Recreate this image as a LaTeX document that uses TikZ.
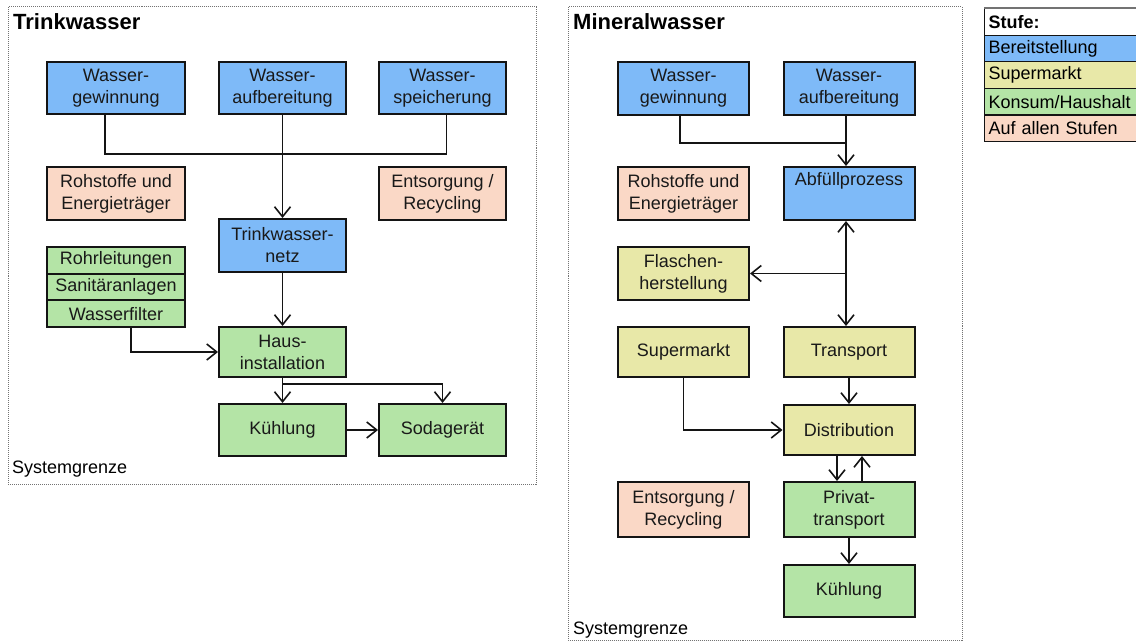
\documentclass[tikz,border=0pt]{standalone}
\usepackage{fontspec}
\setmainfont{Liberation Sans}
\usetikzlibrary{arrows.meta,calc}
\definecolor{cblue}{RGB}{126,186,248}
\definecolor{cyell}{RGB}{232,232,168}
\definecolor{cgreen}{RGB}{180,228,166}
\definecolor{csalm}{RGB}{250,216,198}
\definecolor{cline}{RGB}{20,20,20}
\begin{document}
\begin{tikzpicture}[x=1bp,y=-1bp,
  bx/.style={draw=cline, line width=2bp, align=center, inner sep=0pt,
     font=\fontsize{18bp}{22bp}\selectfont, text=black!90},
  wL/.style={minimum width=137bp},
  wM/.style={minimum width=127bp},
  wR/.style={minimum width=131bp},
  conn/.style={line width=1.6bp, draw=cline},
  arr/.style={conn, -{Straight Barb[length=10bp,width=16bp]}},
  dbl/.style={conn, {Straight Barb[length=10bp,width=16bp]}-{Straight Barb[length=10bp,width=16bp]}},
  panel/.style={draw=black!55, densely dotted, line width=1bp},
  ttl/.style={anchor=west, inner sep=0pt, font=\fontsize{22bp}{26bp}\selectfont\bfseries},
  lbl/.style={anchor=west, inner sep=0pt, font=\fontsize{18bp}{22bp}\selectfont},
  lg/.style={draw=cline, line width=1.2bp, anchor=north west, text width=146bp, align=left,
     inner xsep=4bp, inner ysep=0pt, minimum height=26.6bp,
     font=\fontsize{18bp}{22bp}\selectfont}
]
\useasboundingbox (0,0) rectangle (1136,643);

% ---------- panels ----------
\draw[panel] (8,7) rectangle (536,484);
\draw[panel] (568,7) rectangle (962,640);
\node[ttl] (tL) at (13,22) {Trinkwasser};
\node[ttl] (tR) at (573,22) {Mineralwasser};
\node[lbl] (sL) at (12,469) {Systemgrenze};
\node[lbl] (sR) at (573,630) {Systemgrenze};

% ---------- Trinkwasser ----------
\node[bx, wL, fill=cblue, minimum height=52bp] (gewL) at (116,88.5) {Wasser-\\gewinnung};
\node[bx, wM, fill=cblue, minimum height=52bp] (aufL) at (282.5,88.5) {Wasser-\\aufbereitung};
\node[bx, wM, fill=cblue, minimum height=52bp] (spe) at (442.5,88.5) {Wasser-\\speicherung};
\node[bx, wL, fill=csalm, minimum height=53bp] (rohL) at (116,193.5) {Rohstoffe und\\Energieträger};
\node[bx, wM, fill=csalm, minimum height=53bp] (entL) at (442.5,193.5) {Entsorgung /\\Recycling};
\node[bx, wM, fill=cblue, minimum height=53bp] (netz) at (282.5,245.5) {Trinkwasser-\\netz};
\node[bx, wL, fill=cgreen, minimum height=26.7bp] (rohr) at (116,260.3) {Rohrleitungen};
\node[bx, wL, fill=cgreen, minimum height=26.7bp] (sani) at (116,287) {Sanitäranlagen};
\node[bx, wL, fill=cgreen, minimum height=26.7bp] (filt) at (116,313.7) {Wasserfilter};
\node[bx, wM, fill=cgreen, minimum height=50bp] (haus) at (282.5,352) {Haus-\\installation};
\node[bx, wM, fill=cgreen, minimum height=52bp] (kueL) at (282.5,430) {Kühlung};
\node[bx, wM, fill=cgreen, minimum height=52bp] (soda) at (442.5,430) {Sodagerät};

\draw[conn] ([xshift=-11bp]gewL.south) -- ++(0,38.5) -| ([xshift=4bp]spe.south);
\draw[arr] (aufL.south) -- (netz.north);
\draw[arr] (netz.south) -- (haus.north);
\draw[arr] ([xshift=15bp]filt.south) |- (haus.west);
\draw[arr] (haus.south) -- (kueL.north);
\draw[arr] ($(haus.south)+(0,6)$) -| (soda.north);
\draw[arr] (kueL.east) -- (soda.west);

% ---------- Mineralwasser ----------
\node[bx, wR, fill=cblue, minimum height=53bp] (gewR) at (683.5,88.5) {Wasser-\\gewinnung};
\node[bx, wR, fill=cblue, minimum height=53bp] (aufR) at (849,88.5) {Wasser-\\aufbereitung};
\node[bx, wR, fill=csalm, minimum height=53bp] (rohR) at (683.5,193.5) {Rohstoffe und\\Energieträger};
\node[bx, wR, fill=cblue, minimum height=53bp] (abf) at (849,193.5) {Abfüllprozess\\\strut};
\node[bx, wR, fill=cyell, minimum height=53bp] (fla) at (683.5,273.5) {Flaschen-\\herstellung};
\node[bx, wR, fill=cyell, minimum height=50bp] (sup) at (683.5,352) {Supermarkt};
\node[bx, wR, fill=cyell, minimum height=50bp] (tra) at (849,352) {Transport};
\node[bx, wR, fill=cyell, minimum height=50bp] (dis) at (849,430) {Distribution};
\node[bx, wR, fill=csalm, minimum height=55bp] (entR) at (683.5,509.5) {Entsorgung /\\Recycling};
\node[bx, wR, fill=cgreen, minimum height=55bp] (pri) at (849,509.5) {Privat-\\transport};
\node[bx, wR, fill=cgreen, minimum height=52bp] (kueR) at (849,591) {Kühlung};

\draw[conn] ([xshift=-3.5bp]gewR.south) -- ++(0,27) -| ([xshift=-3bp]aufR.south);
\draw[arr] ([xshift=-3bp]aufR.south) -- ([xshift=-3bp]abf.north);
\draw[dbl] ([xshift=-3bp]abf.south) -- ([xshift=-3bp]tra.north);
\draw[arr] ([xshift=-3bp]abf.south |- fla.east) -- (fla.east);
\draw[arr] (tra.south) -- (dis.north);
\draw[arr] (sup.south) |- (dis.west);
\draw[arr] ([xshift=-12bp]dis.south) -- ([xshift=-12bp]pri.north);
\draw[arr] ([xshift=13bp]pri.north) -- ([xshift=13bp]dis.south);
\draw[arr] (pri.south) -- (kueR.north);

% ---------- Legende ----------
\node[lg, fill=white, font=\fontsize{18bp}{22bp}\selectfont\bfseries] (lg0) at (984,8) {Stufe:};
\node[lg, fill=cblue] (lg1) at (984,34.6) {Bereitstellung};
\node[lg, fill=cyell] (lg2) at (984,61.2) {Supermarkt};
\node[lg, fill=cgreen] (lg3) at (984,87.8) {Konsum/Haushalt};
\node[lg, fill=csalm] (lg4) at (984,114.4) {Auf allen Stufen};
\draw[black!55, line width=2bp] (lg0.north west) -- (lg0.north east);
\end{tikzpicture}
\end{document}
